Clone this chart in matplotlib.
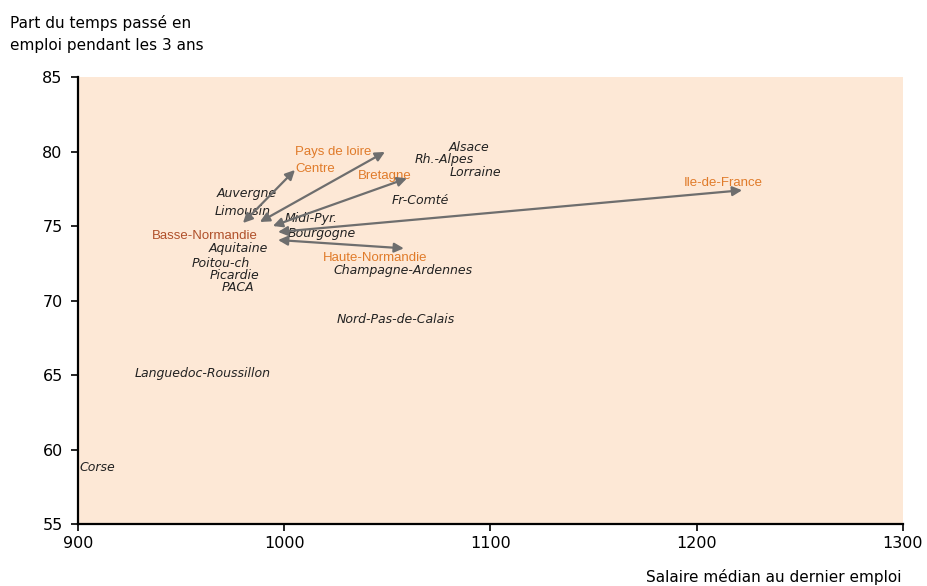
import matplotlib.pyplot as plt

plt.rcParams['font.family'] = ['DejaVu Sans']

# regions (position du libellé = salaire médian, part du temps en emploi)
regions = ["Alsace", "Rh.-Alpes", "Lorraine", "Fr-Comté", "Auvergne", "Limousin",
           "Midi-Pyr.", "Bourgogne", "Aquitaine", "Poitou-ch", "Picardie", "PACA",
           "Champagne-Ardennes", "Nord-Pas-de-Calais", "Languedoc-Roussillon", "Corse"]
reg_x = [1089.6, 1077.5, 1092.5, 1065.8, 982.0, 980.0,
         1013.0, 1018.0, 978.0, 969.3, 976.0, 977.6,
         1057.6, 1054.2, 960.6, 909.5]
reg_y = [80.3, 79.43, 78.62, 76.68, 77.2, 76.0,
         75.47, 74.5, 73.46, 72.45, 71.7, 70.84,
         71.98, 68.7, 65.07, 58.8]

# regions de destination (en orange) et flèches depuis la Basse-Normandie
dest = ["Centre", "Pays de loire", "Bretagne", "Ile-de-France", "Haute-Normandie"]
dest_x = [1014.9, 1023.6, 1048.5, 1212.7, 1044.0]
dest_y = [78.8, 79.97, 78.36, 77.9, 72.85]
arr_x0 = [980.0, 988.2, 994.5, 997.0, 997.0]
arr_y0 = [75.2, 75.27, 75.0, 74.6, 74.06]
arr_x1 = [1005.2, 1048.8, 1059.5, 1222.0, 1058.0]
arr_y1 = [78.76, 79.97, 78.2, 77.4, 73.5]

orig = "Basse-Normandie"
orig_x, orig_y = 961.6, 74.33

fig = plt.figure(figsize=(9.27, 5.86), dpi=100)
ax = fig.add_axes([0.0841, 0.1058, 0.89, 0.7628])
ax.set_facecolor('#fde8d6')

for name, x, y in zip(regions, reg_x, reg_y):
    ax.text(x, y, name, ha='center', va='center', fontsize=9, style='italic', color='#222222')

for name, x, y in zip(dest, dest_x, dest_y):
    ax.text(x, y, name, ha='center', va='center', fontsize=9.5, color='#e07b2a',
            family='Liberation Sans')

ax.text(orig_x, orig_y, orig, ha='center', va='center', fontsize=9.5, color='#b0502a',
        family='Liberation Sans')

for x0, y0, x1, y1 in zip(arr_x0, arr_y0, arr_x1, arr_y1):
    ax.annotate("", xy=(x1, y1), xytext=(x0, y0),
                arrowprops=dict(arrowstyle='<|-|>', color='#6e6e6e', lw=1.6,
                                mutation_scale=14, shrinkA=0, shrinkB=0))

ax.set_xlim(900, 1300)
ax.set_ylim(55, 85)
ax.set_xticks([900, 1000, 1100, 1200, 1300])
ax.set_yticks([55, 60, 65, 70, 75, 80, 85])
ax.tick_params(labelsize=11.5, length=5, width=1.2, direction='out')
ax.tick_params(axis='y', pad=6)
ax.spines['top'].set_visible(False)
ax.spines['right'].set_visible(False)
ax.spines['left'].set_linewidth(1.6)
ax.spines['bottom'].set_linewidth(1.6)

fig.text(0.011, 0.942, "Part du temps passé en\nemploi pendant les 3 ans", fontsize=11,
         ha='left', va='center', linespacing=1.65)
fig.text(0.972, 0.002, "Salaire médian au dernier emploi", fontsize=11, ha='right', va='bottom')

fig.savefig('out.png', dpi=100)
